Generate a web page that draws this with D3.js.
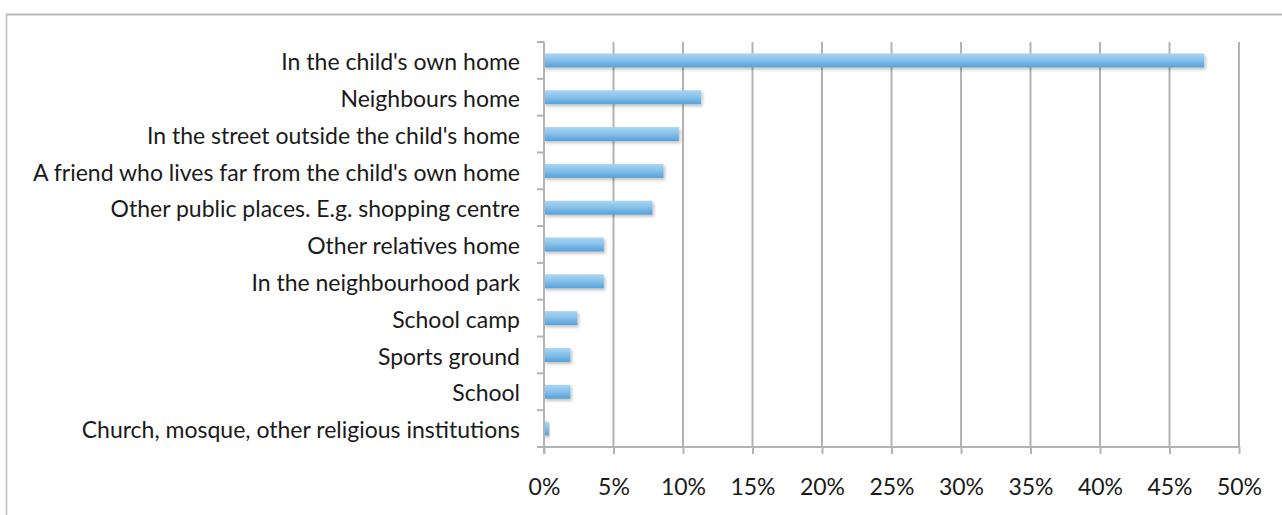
<!DOCTYPE html>
<html>
<head>
<meta charset="utf-8">
<script src="https://cdn.jsdelivr.net/npm/d3@7"></script>
<style>
  html, body { margin: 0; padding: 0; background: #fff; }
  svg { display: block; }
  .lbl { font-family: Lato, "Open Sans", sans-serif; font-size: 23px; fill: #1a1a1a; }
</style>
</head>
<body>
<svg id="chart" width="1282" height="515"></svg>
<script>
// Places where the child was (share of responses)
const categories = [
  "In the child's own home",
  "Neighbours home",
  "In the street outside the child's home",
  "A friend who lives far from the child's own home",
  "Other public places. E.g. shopping centre",
  "Other relatives home",
  "In the neighbourhood park",
  "School camp",
  "Sports ground",
  "School",
  "Church, mosque, other religious institutions"
];
const values = [47.5, 11.3, 9.7, 8.6, 7.8, 4.3, 4.3, 2.4, 1.9, 1.9, 0.35];
const tickValues = [0, 5, 10, 15, 20, 25, 30, 35, 40, 45, 50];

const svg = d3.select("#chart");
const W = 1282, H = 515;
const plot = { left: 544, right: 1239, top: 42, bottom: 447 };

const x = d3.scaleLinear().domain([0, 50]).range([plot.left, plot.right]);
const y = d3.scaleBand().domain(categories).range([plot.top, plot.bottom]).paddingInner(0.62).paddingOuter(0.31);

const defs = svg.append("defs");
const grad = defs.append("linearGradient").attr("id", "barGrad")
  .attr("x1", 0).attr("y1", 0).attr("x2", 0).attr("y2", 1);
grad.append("stop").attr("offset", "0%").attr("stop-color", "#acd5f2");
grad.append("stop").attr("offset", "45%").attr("stop-color", "#88c2eb");
grad.append("stop").attr("offset", "100%").attr("stop-color", "#56a0d9");
const shadow = defs.append("filter").attr("id", "shadow")
  .attr("x", "-10%").attr("y", "-50%").attr("width", "130%").attr("height", "220%");
shadow.append("feDropShadow").attr("dx", 1.5).attr("dy", 2).attr("stdDeviation", 1.6)
  .attr("flood-color", "#000").attr("flood-opacity", 0.25);

// Outer frame (top and left edges)
svg.append("line").attr("x1", 6).attr("x2", W).attr("y1", 14.5).attr("y2", 14.5)
  .attr("stroke", "#b8b8b8").attr("stroke-width", 2);
svg.append("line").attr("x1", 6.5).attr("x2", 6.5).attr("y1", 14).attr("y2", H)
  .attr("stroke", "#b8b8b8").attr("stroke-width", 1.5);

// Vertical gridlines
svg.append("g").selectAll("line").data(tickValues.slice(1)).join("line")
  .attr("x1", d => x(d)).attr("x2", d => x(d))
  .attr("y1", plot.top).attr("y2", plot.bottom)
  .attr("stroke", "#b3b3b3").attr("stroke-width", 2);

// Bars
svg.append("g").selectAll("rect").data(values).join("rect")
  .attr("x", x(0))
  .attr("y", (d, i) => y(categories[i]))
  .attr("width", d => x(d) - x(0))
  .attr("height", y.bandwidth())
  .attr("fill", "url(#barGrad)")
  .attr("filter", "url(#shadow)");

// Category axis
const yAxis = svg.append("g").attr("transform", `translate(${plot.left},0)`)
  .call(d3.axisLeft(y).tickSize(0).tickPadding(24));
yAxis.select(".domain").remove();
yAxis.selectAll("text").attr("class", "lbl").attr("font-family", null).attr("font-size", null)
  .attr("dy", "0.42em");
svg.append("line").attr("x1", plot.left).attr("x2", plot.left)
  .attr("y1", plot.top).attr("y2", plot.bottom + 7)
  .attr("stroke", "#b3b3b3").attr("stroke-width", 2);
const step = y.step();
svg.append("g").selectAll("line").data(d3.range(categories.length + 1)).join("line")
  .attr("x1", plot.left - 7).attr("x2", plot.left)
  .attr("y1", i => plot.top + i * step).attr("y2", i => plot.top + i * step)
  .attr("stroke", "#b3b3b3").attr("stroke-width", 2);

// Value axis
const xAxis = svg.append("g").attr("transform", `translate(0,${plot.bottom})`)
  .call(d3.axisBottom(x).tickValues(tickValues).tickFormat(d => d + "%").tickSize(7).tickPadding(25));
xAxis.select(".domain").attr("d", `M${plot.left},0H${plot.right}`)
  .attr("stroke", "#b3b3b3").attr("stroke-width", 2);
xAxis.selectAll(".tick line").attr("stroke", "#b3b3b3").attr("stroke-width", 2);
xAxis.selectAll("text").attr("class", "lbl").attr("font-family", null).attr("font-size", null);
</script>
</body>
</html>
